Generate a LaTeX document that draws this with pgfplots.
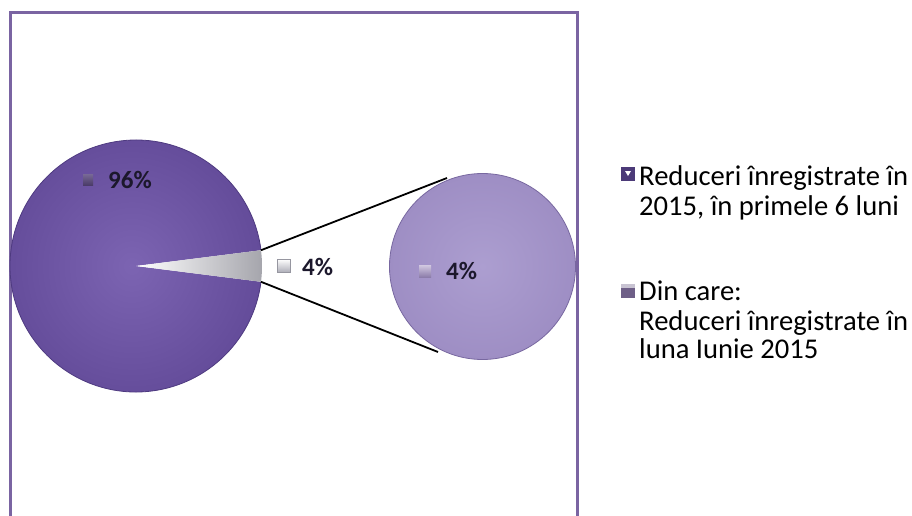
\documentclass[border=0pt]{standalone}
\usepackage{pgfplots}
\pgfplotsset{compat=1.18}
\usepackage{pgfplotstable}
\usepackage{fontspec}
\setmainfont{Carlito}
\definecolor{mainpurple}{RGB}{112,88,166}
\definecolor{mainpurplein}{RGB}{124,100,178}
\definecolor{mainpurpleout}{RGB}{100,76,154}
\definecolor{mainedge}{RGB}{78,58,128}
\definecolor{smallin}{RGB}{172,158,208}
\definecolor{smallout}{RGB}{158,142,196}
\definecolor{smalledge}{RGB}{120,104,160}
\definecolor{framecol}{RGB}{122,100,162}
\definecolor{txt}{RGB}{28,24,44}
\definecolor{legA}{RGB}{76,58,120}
\definecolor{legBtop}{RGB}{200,195,210}
\definecolor{legBbot}{RGB}{110,95,135}
\definecolor{grayslice}{RGB}{165,165,172}
\definecolor{mkAtop}{RGB}{120,105,150}
\definecolor{mkAbot}{RGB}{75,60,105}
\definecolor{mkBbot}{RGB}{175,175,185}
\definecolor{mkBedge}{RGB}{150,150,160}
\definecolor{mkCtop}{RGB}{210,200,225}
\definecolor{mkCbot}{RGB}{140,125,170}
\pgfplotstableread{
part value
main 96
june 4
}\piedata
\begin{document}
\begin{tikzpicture}
\pgfplotstablegetelem{0}{value}\of\piedata \let\vMain\pgfplotsretval
\pgfplotstablegetelem{1}{value}\of\piedata \let\vJune\pgfplotsretval
\pgfmathsetmacro{\half}{180*\vJune/(\vMain+\vJune)}
\pgfmathsetmacro{\rest}{360-\half}
\begin{axis}[name=ax, width=912pt, height=516pt, scale only axis,
  xmin=0, xmax=912, ymin=0, ymax=516, y dir=reverse, hide axis, clip=false]
% frame
\draw[framecol, line width=3pt] (axis cs:10,530) -- (axis cs:10,12.5) -- (axis cs:577,12.5) -- (axis cs:577,530);
% main pie, 96% slice
\shade[inner color=mainpurplein, outer color=mainpurpleout]
  (axis cs:136,266) -- ++(\half:126pt) arc[start angle=\half, end angle=\rest, radius=126pt] -- cycle;
\draw[mainedge, line width=0.8pt]
  (axis cs:136,266) ++(\half:126pt) arc[start angle=\half, end angle=\rest, radius=126pt];
% 4% slice
\shade[left color=white, right color=grayslice]
  (axis cs:136,266) -- ++(-\half:126pt) arc[start angle=-\half, end angle=\half, radius=126pt] -- cycle;
% secondary pie (the 4% shown at 100%)
\shade[inner color=smallin, outer color=smallout] (axis cs:482.5,266.5) circle[radius=93pt];
\draw[smalledge, line width=0.8pt] (axis cs:482.5,266.5) circle[radius=93pt];
% connector lines
\draw[black, line width=1.8pt] (axis cs:136,266) ++(\half:126pt) -- (axis cs:447,178);
\draw[black, line width=1.8pt] (axis cs:136,266) ++(-\half:126pt) -- (axis cs:438,352);
% data labels
\shade[top color=mkAtop, bottom color=mkAbot] (axis cs:83,174) rectangle (axis cs:93,185);
\node[anchor=base west, inner sep=0pt, text=txt, font=\fontsize{25}{25}\selectfont\bfseries] at (axis cs:108,188) {96\%};
\shade[top color=white, bottom color=mkBbot, draw=mkBedge] (axis cs:277,259) rectangle (axis cs:290,272);
\node[anchor=base west, inner sep=0pt, text=txt, font=\fontsize{25}{25}\selectfont\bfseries] at (axis cs:302,275) {4\%};
\shade[top color=mkCtop, bottom color=mkCbot] (axis cs:419,265) rectangle (axis cs:431,277);
\node[anchor=base west, inner sep=0pt, text=txt, font=\fontsize{25}{25}\selectfont\bfseries] at (axis cs:446,279) {4\%};
% legend
\fill[legA] (axis cs:621,167) rectangle (axis cs:635,181);
\fill[white] (axis cs:625,171) -- (axis cs:631,171) -- (axis cs:628,176) -- cycle;
\fill[legBtop] (axis cs:621,284) rectangle (axis cs:635,298);
\fill[legBbot] (axis cs:621,288) rectangle (axis cs:635,298);
\node[anchor=base west, inner sep=0pt, text=black, font=\fontsize{28.6}{28.6}\selectfont] at (axis cs:639,185) {Reduceri înregistrate în};
\node[anchor=base west, inner sep=0pt, text=black, font=\fontsize{28.6}{28.6}\selectfont] at (axis cs:639,215) {2015, în primele 6 luni};
\node[anchor=base west, inner sep=0pt, text=black, font=\fontsize{28.6}{28.6}\selectfont] at (axis cs:639,300) {Din care:};
\node[anchor=base west, inner sep=0pt, text=black, font=\fontsize{28.6}{28.6}\selectfont] at (axis cs:639,330) {Reduceri înregistrate în};
\node[anchor=base west, inner sep=0pt, text=black, font=\fontsize{28.6}{28.6}\selectfont] at (axis cs:639,358) {luna Iunie 2015};
\end{axis}
\pgfresetboundingbox
\path[use as bounding box] (ax.south west) rectangle (ax.north east);
\end{tikzpicture}
\end{document}
